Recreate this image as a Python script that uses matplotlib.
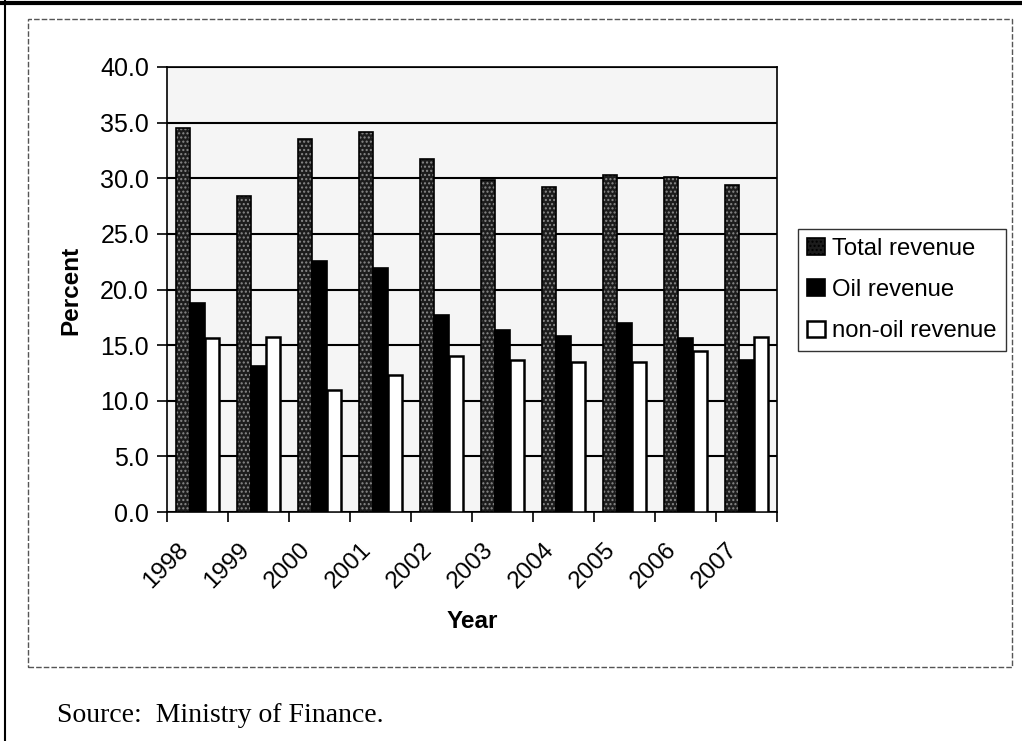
import matplotlib
matplotlib.use("Agg")
import numpy as np
import matplotlib.pyplot as plt
from matplotlib.patches import Patch, Rectangle
from matplotlib.lines import Line2D
from matplotlib.transforms import ScaledTranslation

# datos (porcentaje)
years = ["1998", "1999", "2000", "2001", "2002", "2003", "2004", "2005", "2006", "2007"]
total_rev = [34.5, 28.4, 33.5, 34.2, 31.7, 29.8, 29.2, 30.3, 30.1, 29.4]
oil_rev = [18.8, 13.1, 22.6, 21.9, 17.7, 16.4, 15.8, 17.0, 15.6, 13.7]
nonoil_rev = [15.6, 15.7, 11.0, 12.3, 14.0, 13.7, 13.5, 13.5, 14.5, 15.7]
yticks = [0, 5, 10, 15, 20, 25, 30, 35, 40]

plt.rcParams["font.family"] = ["Liberation Sans", "DejaVu Sans"]

W, H = 1022, 741
fig = plt.figure(figsize=(W / 100, H / 100), dpi=100)
fig.patch.set_facecolor("white")

# marco de página y área del gráfico
fig.add_artist(Line2D([0, 1], [1 - 3 / H, 1 - 3 / H], color="black", lw=3))
fig.add_artist(Line2D([5 / W, 5 / W], [0, 1], color="black", lw=1.5))
fig.add_artist(Rectangle((28 / W, 1 - 667 / H), (1012 - 28) / W, (667 - 19) / H,
                         transform=fig.transFigure, fill=False,
                         edgecolor="#555555", lw=1.0, linestyle=(0, (4, 1.5))))

ax = fig.add_axes([167 / W, 1 - 512 / H, (777 - 167) / W, (512 - 67) / H])
ax.set_facecolor("#f5f5f5")

x = np.arange(len(years))
w = 0.23

# barras "Total" con punteado gris sobre negro
ax.bar(x - w, total_rev, w, color="#1c1c1c", edgecolor="#8a8a8a", hatch="....",
       lw=0, zorder=3)
ax.bar(x - w, total_rev, w, facecolor="none", edgecolor="black", lw=1.2, zorder=4)
ax.bar(x, oil_rev, w, color="black", edgecolor="black", lw=1.2, zorder=3)
ax.bar(x + w, nonoil_rev, w, color="white", edgecolor="black", lw=1.8, zorder=3)

ax.set_ylim(0, 40)
ax.set_xlim(-0.5, len(years) - 0.5)
ax.set_yticks(yticks)
ax.set_yticklabels([f"{v:.1f}" for v in yticks], fontsize=18)
ax.yaxis.grid(True, color="black", lw=1.5, zorder=1)
ax.set_axisbelow(True)
ax.tick_params(axis="y", direction="out", length=7, width=1.2, pad=6)

# marcas en los límites de categoría, etiquetas rotadas
ax.set_xticks(np.arange(len(years) + 1) - 0.5, minor=True)
ax.tick_params(axis="x", which="minor", direction="out", length=7, width=1.2)
ax.set_xticks(x)
ax.set_xticklabels(years, fontsize=17.5, rotation=45, ha="right", va="top",
                   rotation_mode="anchor")
ax.tick_params(axis="x", which="major", length=0, pad=19)
off = ScaledTranslation(-20 / 100, 0, fig.dpi_scale_trans)
for lbl in ax.get_xticklabels():
    lbl.set_transform(lbl.get_transform() + off)

for s in ax.spines.values():
    s.set_color("black")
    s.set_linewidth(1.2)

fig.text(71 / W, 1 - 290 / H, "Percent", rotation=90, fontsize=17.5,
         fontweight="bold", ha="center", va="center")
fig.text(472 / W, 1 - 621 / H, "Year", fontsize=17.5, fontweight="bold",
         ha="center", va="center")

handles = [
    Patch(facecolor="#1c1c1c", edgecolor="black", hatch="....", lw=1.2),
    Patch(facecolor="black", edgecolor="black", lw=1.2),
    Patch(facecolor="white", edgecolor="black", lw=1.8),
]
leg = fig.legend(handles, ["Total revenue", "Oil revenue", "non-oil revenue"],
                 loc="upper left", bbox_to_anchor=(798 / W, 1 - 229 / H),
                 fontsize=17.2, frameon=True, fancybox=False, handlelength=0.75,
                 handleheight=0.7, handletextpad=0.3, labelspacing=0.8,
                 borderpad=0.38, borderaxespad=0)
leg.get_frame().set_edgecolor("black")
leg.get_frame().set_linewidth(1.0)

fig.text(57 / W, 1 - 715 / H, "Source:  Ministry of Finance.", fontsize=20,
         family=["Liberation Serif", "DejaVu Serif"], ha="left", va="center")

fig.savefig("out.png", dpi=100)
